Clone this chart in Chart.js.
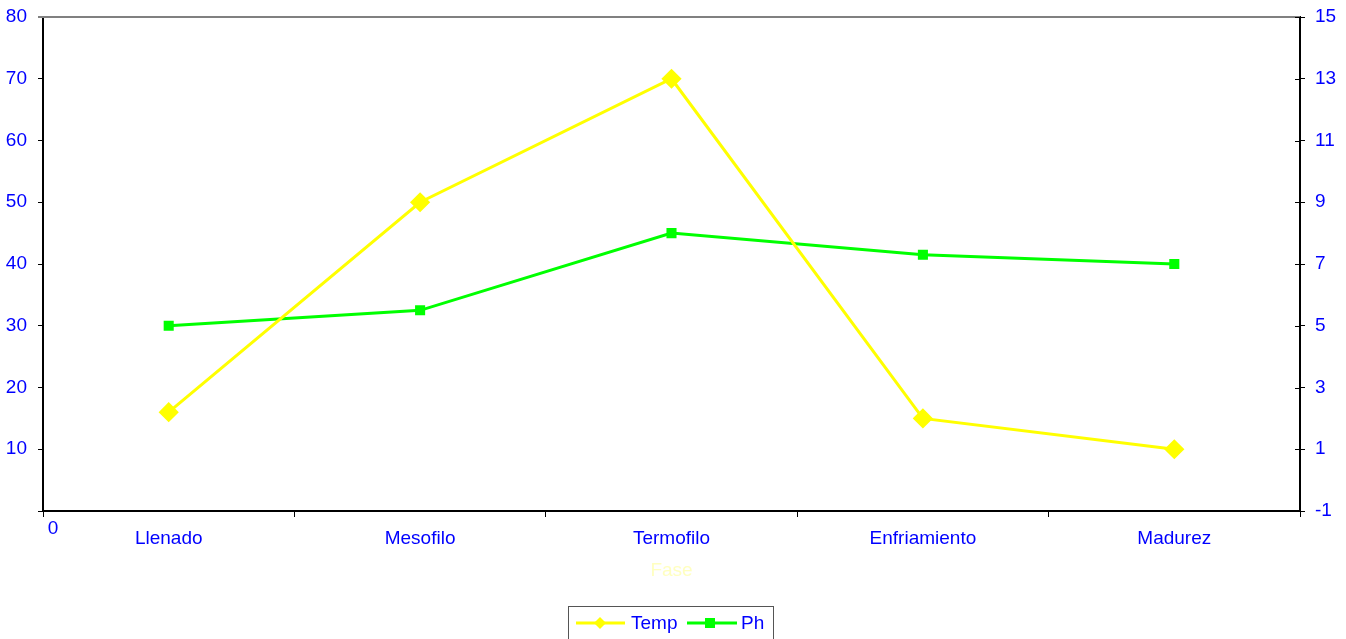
<head>
    <style>
        body { margin: 0; background: #fff; }
        #chartContainer { width: 1346px; height: 639px; }
    </style>
</head>

<body>
    <div id="chartContainer">
        <canvas id="myChart"></canvas>
    </div>
</body>

<script src="https://cdn.jsdelivr.net/npm/chart.js@4.4.0/dist/chart.umd.min.js"></script>

<script>
    // data
    var fases = ['Llenado', 'Mesofilo', 'Termofilo', 'Enfriamiento', 'Madurez'];
    var temp = [16, 50, 70, 15, 10];
    var ph = [5, 5.5, 8, 7.3, 7];

    var FONT = '"Liberation Sans", Arial, sans-serif';
    var FSIZE = 19;
    var BLUE = '#0000ff';

    // extra bits Excel draws: top border, inner ticks on right axis, the stray "0", legend box
    var extras = {
        id: 'extras',
        afterDraw: function (chart) {
            var c = chart.ctx, a = chart.chartArea;
            c.save();
            c.strokeStyle = '#808080';
            c.lineWidth = 2;
            c.beginPath();
            c.moveTo(a.left - 5, a.top);
            c.lineTo(a.right, a.top);
            c.stroke();

            // right axis ticks cross the axis
            var y1 = chart.scales.y1;
            c.strokeStyle = '#000';
            c.lineWidth = 1;
            y1.ticks.forEach(function (t) {
                var py = Math.round(y1.getPixelForValue(t.value)) + 0.5;
                c.beginPath();
                c.moveTo(a.right - 5, py);
                c.lineTo(a.right, py);
                c.stroke();
            });

            c.font = FSIZE + 'px ' + FONT;
            c.fillStyle = BLUE;
            c.textAlign = 'center';
            c.textBaseline = 'middle';
            c.fillText('0', 53, 529);

            // legend
            c.strokeStyle = '#555';
            c.lineWidth = 1;
            c.strokeRect(568.5, 606.5, 205, 40);
            c.lineWidth = 3;
            c.strokeStyle = '#ffff00';
            c.beginPath(); c.moveTo(576, 623); c.lineTo(625, 623); c.stroke();
            c.fillStyle = '#ffff00';
            c.beginPath();
            c.moveTo(600, 617); c.lineTo(606, 623); c.lineTo(600, 629); c.lineTo(594, 623);
            c.closePath(); c.fill();
            c.strokeStyle = '#00ff00';
            c.beginPath(); c.moveTo(687, 623); c.lineTo(737, 623); c.stroke();
            c.fillStyle = '#00ff00';
            c.fillRect(705, 618, 10, 10);
            c.fillStyle = BLUE;
            c.textAlign = 'left';
            c.fillText('Temp', 631, 624);
            c.fillText('Ph', 741, 624);
            c.restore();
        }
    };

    function fixY(w) {
        return function (s) { s.width = w; s.paddingTop = 0; s.paddingBottom = 0; };
    }

    var ctx = document.getElementById('myChart').getContext('2d');
    var myChart = new Chart(ctx, {
        type: 'line',
        data: {
            labels: fases,
            datasets: [{
                label: 'Temp',
                data: temp,
                yAxisID: 'y',
                borderColor: '#ffff00',
                backgroundColor: '#ffff00',
                borderWidth: 3,
                pointStyle: 'rectRot',
                pointRadius: 8,
                pointHoverRadius: 8,
                tension: 0
            }, {
                label: 'Ph',
                data: ph,
                yAxisID: 'y1',
                borderColor: '#00ff00',
                backgroundColor: '#00ff00',
                borderWidth: 3,
                pointStyle: 'rect',
                pointRadius: 5,
                pointHoverRadius: 5,
                tension: 0
            }]
        },
        options: {
            responsive: true,
            maintainAspectRatio: false,
            animation: false,
            layout: { padding: { top: 17, left: 0, right: 0, bottom: 0 } },
            plugins: {
                legend: { display: false },
                tooltip: { enabled: false }
            },
            scales: {
                x: {
                    offset: true,
                    grid: { offset: true, drawOnChartArea: false, color: '#000', tickLength: 6 },
                    border: { color: '#000', width: 2 },
                    ticks: { color: BLUE, font: { family: FONT, size: FSIZE }, padding: 10, maxRotation: 0 },
                    title: {
                        display: true, text: 'Fase', color: '#ffffc0',
                        font: { family: FONT, size: FSIZE }, padding: { top: 4, bottom: 57 }
                    },
                    afterFit: function (s) { s.height = 128; s.paddingLeft = 0; s.paddingRight = 0; }
                },
                y: {
                    position: 'left',
                    min: 0, max: 80,
                    ticks: {
                        stepSize: 10, color: BLUE, font: { family: FONT, size: FSIZE }, padding: 11,
                        callback: function (v) { return v === 0 ? '' : v; }
                    },
                    grid: { drawOnChartArea: false, color: '#000', tickLength: 5 },
                    border: { color: '#000', width: 2 },
                    afterFit: fixY(43)
                },
                y1: {
                    position: 'right',
                    min: -1, max: 15,
                    ticks: { stepSize: 2, color: BLUE, font: { family: FONT, size: FSIZE }, padding: 10 },
                    grid: { drawOnChartArea: false, color: '#000', tickLength: 5 },
                    border: { color: '#000', width: 2 },
                    afterFit: fixY(46)
                }
            }
        },
        plugins: [extras]
    });
</script>
